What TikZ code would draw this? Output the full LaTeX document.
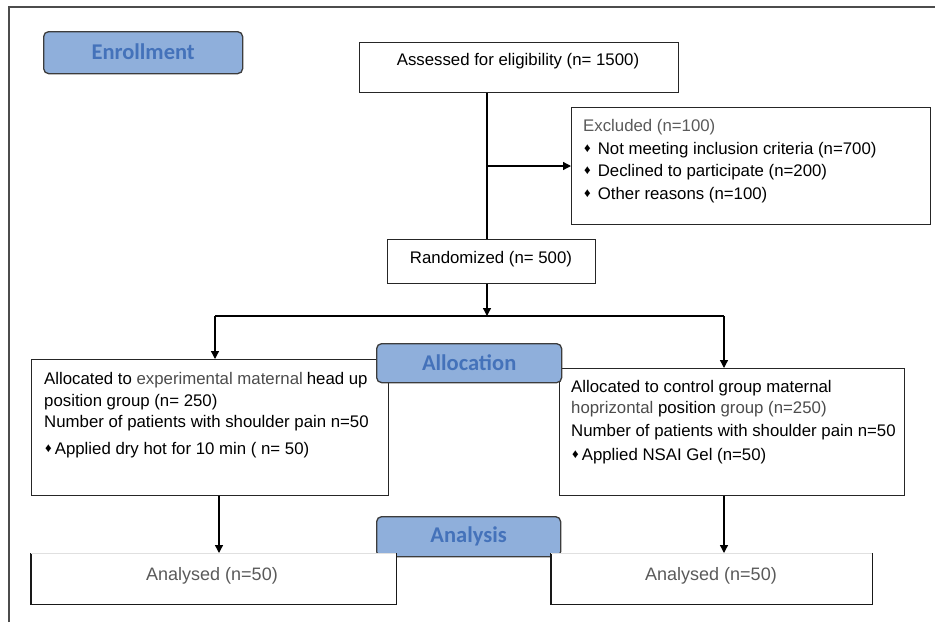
\documentclass[tikz,border=0pt]{standalone}
\usepackage{fontspec}
\setmainfont{Liberation Sans}
\newfontfamily\calib{Carlito}
\usetikzlibrary{arrows.meta}
\definecolor{lblfill}{RGB}{143,175,219}
\definecolor{lbltext}{RGB}{68,114,186}
\definecolor{lbledge}{RGB}{60,60,60}
\definecolor{graytxt}{RGB}{90,90,90}
\tikzset{
  box/.style={draw=black!85, line width=1.3pt, fill=white, anchor=north west, inner sep=0pt},
  lbl/.style={draw=lbledge, line width=1.3pt, fill=lblfill, rounded corners=5pt, anchor=north west, inner sep=0pt,
    text=lbltext, font=\calib\bfseries\fontsize{22.5}{25}\selectfont},
  txt/.style={anchor=west, inner sep=0pt, font=\fontsize{16.8}{20}\selectfont, text=black},
  gtxt/.style={txt, text=graytxt},
  arr/.style={draw=black, line width=1.3pt, -{Triangle[length=8pt,width=8pt]}},
  ln/.style={draw=black, line width=1.3pt},
}
\newcommand{\dm}{\raisebox{1.5pt}{\fontsize{13}{13}\selectfont ♦}}
\begin{document}
\begin{tikzpicture}[x=1pt,y=-1pt]
\useasboundingbox (0,0) rectangle (935,622);
% outer frame (top and left edges)
\draw[draw=black!70, line width=1.5pt] (9,622) -- (9,7) -- (935,7);

% boxes
\node[box, minimum width=319pt, minimum height=50pt] (assess) at (359,42) {};
\node[box, minimum width=359pt, minimum height=117pt] (excl) at (571,107) {};
\node[box, minimum width=208pt, minimum height=44pt] (rand) at (387,239) {};
\node[box, minimum width=357pt, minimum height=136pt] (allocL) at (31,359) {};
\node[box, minimum width=345pt, minimum height=127pt] (allocR) at (559,368) {};

% texts
\node[txt, anchor=center] (tassess) at (518,61.5) {Assessed for eligibility (n= 1500)};
\node[txt, anchor=center] (trand) at (491,259) {Randomized (n= 500)};
\node[gtxt] (tex0) at (583,127) {Excluded (n=100)};
\node[txt] (tex1) at (584,150) {\dm\hspace{7pt}Not meeting inclusion criteria (n=700)};
\node[txt] (tex2) at (584,172) {\dm\hspace{7pt}Declined to participate (n=200)};
\node[txt] (tex3) at (584,195) {\dm\hspace{7pt}Other reasons (n=100)};

\node[txt] (tl1) at (44,380) {Allocated to \textcolor{black!70}{experimental maternal}\hspace{4pt}head up};
\node[txt] (tl2) at (44,402) {position group (n= 250)};
\node[txt] (tl3) at (44,423) {Number of patients with shoulder pain n=50};
\node[txt] (tl4) at (45,450) {\dm\hspace{3pt}Applied dry hot for 10 min ( n= 50)};

\node[txt] (tr1) at (571,388) {Allocated to control group maternal};
\node[txt] (tr2) at (571,409) {\textcolor{black!70}{hoprizontal} position \textcolor{black!70}{group (n=250)}};
\node[txt] (tr3) at (571,432) {Number of patients with shoulder pain n=50};
\node[txt] (tr4) at (572,456) {\dm\hspace{3pt}Applied NSAI Gel (n=50)};

% connectors
\coordinate (spine) at (487,166);
\coordinate (split) at (487,316);
\coordinate (jl) at (215,316);
\coordinate (jr) at (724,316);
\draw[ln] (assess.south -| spine) -- (rand.north -| spine);
\draw[arr] (spine) -- (excl.west |- spine);
\draw[arr] (rand.south -| split) -- (split);
\draw[ln] (jl) -- (jr);
\draw[arr] (jl) -- (jl |- allocL.north);
\draw[arr] (jr) -- (jr |- allocR.north);

% phase labels
\node[lbl, minimum width=199pt, minimum height=42pt] (enroll) at (43,31) {\raisebox{3pt}{Enrollment}};
\node[lbl, minimum width=185pt, minimum height=39pt] (allocation) at (376,343) {\raisebox{1pt}{Allocation}};
\node[lbl, minimum width=184pt, minimum height=40pt] (analysis) at (376,516) {\raisebox{1pt}{Analysis}};

% analysed boxes
\node[box, draw=none, minimum width=364pt, minimum height=50pt] (anaL) at (31,553) {};
\node[box, draw=none, minimum width=320pt, minimum height=50pt] (anaR) at (551,553) {};
\foreach \b in {anaL,anaR}{
  \draw[black!90, line width=1.3pt] (\b.north west) -- (\b.south west) -- (\b.south east) -- (\b.north east);
  \draw[black!12, line width=0.8pt] (\b.north west) -- (\b.north east);
}
\node[gtxt, anchor=center, font=\fontsize{18}{20}\selectfont] (taL) at (212,576) {Analysed (n=50)};
\node[gtxt, anchor=center, font=\fontsize{18}{20}\selectfont] (taR) at (711,576) {Analysed (n=50)};

\draw[arr] (allocL.south -| 219,0) -- (anaL.north -| 219,0);
\draw[arr] (allocR.south -| 724,0) -- (anaR.north -| 724,0);
\end{tikzpicture}
\end{document}
